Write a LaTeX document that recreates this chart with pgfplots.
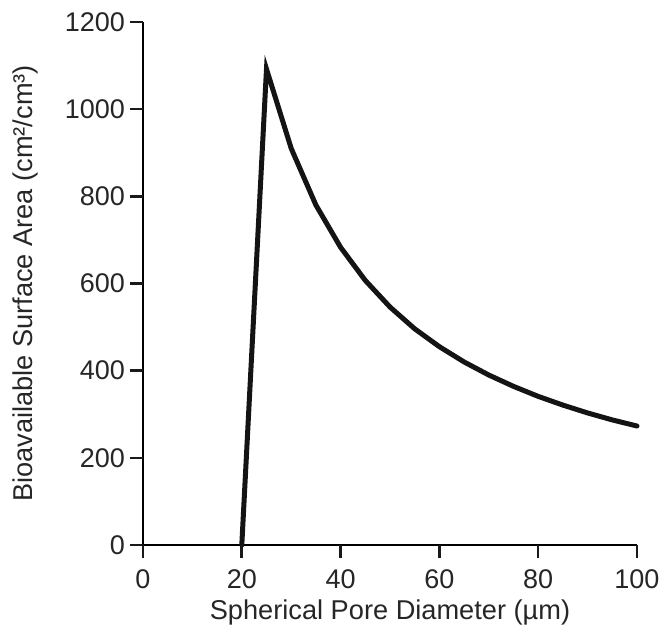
\documentclass[border=0pt]{standalone}
\usepackage{fontspec}
\setmainfont{Liberation Sans}
\usepackage{pgfplots}
\pgfplotsset{compat=1.18}
\begin{document}
\begin{tikzpicture}
\begin{axis}[
  scale only axis,
  width=247pt, height=261.5pt,
  xmin=0, xmax=100, ymin=0, ymax=1200,
  axis lines=left,
  x axis line style={line width=1.3pt, -},
  y axis line style={line width=1.3pt, -},
  xtick={0,20,40,60,80,100},
  ytick={0,200,400,600,800,1000,1200},
  tick align=outside,
  major tick length=6.5pt,
  tick style={line width=1.3pt, black!90},
  /pgf/number format/assume math mode=true,
  /pgf/number format/1000 sep={},
  tick label style={font=\fontsize{13.5}{16}\selectfont, text=black!85},
  xticklabel style={yshift=-2.5pt},
  yticklabel style={xshift=1pt},
  label style={font=\fontsize{13.6}{16}\selectfont, text=black!85},
  xlabel={Spherical Pore Diameter (µm)},
  ylabel={Bioavailable Surface Area (cm²/cm³)},
  xlabel style={at={([yshift=-37.5pt]axis description cs:0.5,0)}, anchor=base},
  ylabel style={at={([xshift=-55pt]axis description cs:0,0.5)}, anchor=base},
  clip=false,
]
\addplot[line width=2.5pt, black!92, line join=miter, line cap=round] coordinates {
  (20,0) (25,1092) (30,910) (35,780) (40,683) (45,607) (50,546) (55,496)
  (60,455) (65,420) (70,390) (75,364) (80,341) (85,321) (90,303) (95,287) (100,273)
};
\draw[line width=1.3pt, black!90] (axis cs:0,0) -- ++(0,-6.5pt);
\draw[line width=1.3pt, black!90] (axis cs:20,0) -- ++(0,-6.5pt);
\draw[line width=1.3pt, black!90] (axis cs:40,0) -- ++(0,-6.5pt);
\draw[line width=1.3pt, black!90] (axis cs:60,0) -- ++(0,-6.5pt);
\draw[line width=1.3pt, black!90] (axis cs:80,0) -- ++(0,-6.5pt);
\draw[line width=1.3pt, black!90] (axis cs:100,0) -- ++(0,-6.5pt);
\draw[line width=1.3pt, black!90] (axis cs:0,0) -- ++(-6.5pt,0);
\draw[line width=1.3pt, black!90] (axis cs:0,200) -- ++(-6.5pt,0);
\draw[line width=1.3pt, black!90] (axis cs:0,400) -- ++(-6.5pt,0);
\draw[line width=1.3pt, black!90] (axis cs:0,600) -- ++(-6.5pt,0);
\draw[line width=1.3pt, black!90] (axis cs:0,800) -- ++(-6.5pt,0);
\draw[line width=1.3pt, black!90] (axis cs:0,1000) -- ++(-6.5pt,0);
\draw[line width=1.3pt, black!90] (axis cs:0,1200) -- ++(-6.5pt,0);
\coordinate (sw) at (rel axis cs:0,0);
\coordinate (ne) at (rel axis cs:1,1);
\end{axis}
\pgfresetboundingbox
\path ([shift={(-71.5pt,-46pt)}]sw) rectangle ([shift={(16.5pt,11pt)}]ne);
\end{tikzpicture}
\end{document}
